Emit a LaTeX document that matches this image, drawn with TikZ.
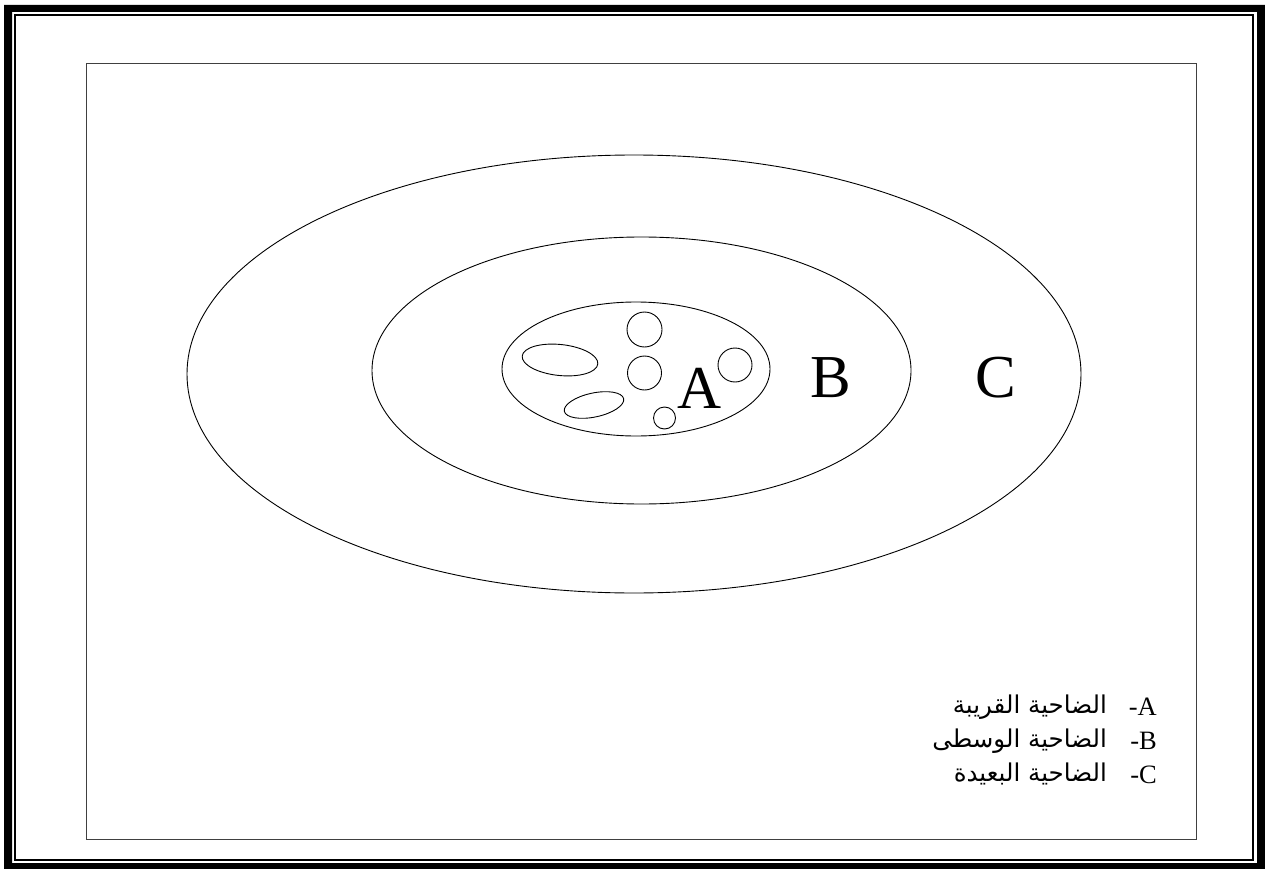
\documentclass[tikz,border=0pt]{standalone}
\usepackage{fontspec}
\setmainfont{Liberation Serif}
\newfontfamily\arabicfont[Script=Arabic]{DejaVu Sans}
\TeXXeTstate=1
\begin{document}
\begin{tikzpicture}[x=1pt,y=-1pt,
  zone/.style={draw=black,line width=0.9pt},
  bigletter/.style={font=\fontsize{61}{61}\selectfont,inner sep=0pt,anchor=base},
  legendlat/.style={font=\fontsize{26.5}{26.5}\selectfont,inner sep=0pt,anchor=base east},
  legendar/.style={font=\arabicfont\fontsize{24.5}{24.5}\selectfont,inner sep=0pt,anchor=base east}]
\useasboundingbox (0,0) rectangle (1265,869);
% frame
\fill[black,even odd rule] (4,5) rectangle (1265,869) (12,12) rectangle (1257,863);
\draw[line width=2pt] (15,15) rectangle (1253,860);
\draw[black!75,line width=1pt] (86.5,63.5) rectangle (1196,839);
% zones
\coordinate (cC) at (634,374);
\coordinate (cB) at (641.5,370.5);
\coordinate (cA) at (636,369);
\draw[zone] (cC) ellipse [x radius=447,y radius=219];
\draw[zone] (cB) ellipse [x radius=269.5,y radius=133.5];
\draw[zone] (cA) ellipse [x radius=134,y radius=67];
% small shapes
\draw[zone] (644.5,329.5) circle [radius=17.5];
\draw[zone] (644.5,373) circle [radius=17];
\draw[zone] (735,365) circle [radius=17];
\draw[zone] (664.5,418) circle [radius=11];
\draw[zone,rotate around={-6:(560,360)}] (560,360) ellipse [x radius=38,y radius=15.5];
\draw[zone,rotate around={12:(594,405)}] (594,405) ellipse [x radius=30.3,y radius=12];
% letters
\node[bigletter] (la) at (700,408) {A};
\node[bigletter] (lb) at (831,397) {B};
\node[bigletter] (lc) at (996,397) {C};
% legend
\node[legendlat] (ka) at (1157,715) {-A};
\node[legendlat] (kb) at (1157,749) {-B};
\node[legendlat] (kc) at (1157,783) {-C};
\node[legendar] (ta) at (1107,713) {\beginR الضاحية القريبة\endR};
\node[legendar] (tb) at (1107,747) {\beginR الضاحية الوسطى\endR};
\node[legendar] (tc) at (1107,781) {\beginR الضاحية البعيدة\endR};
\end{tikzpicture}
\end{document}
